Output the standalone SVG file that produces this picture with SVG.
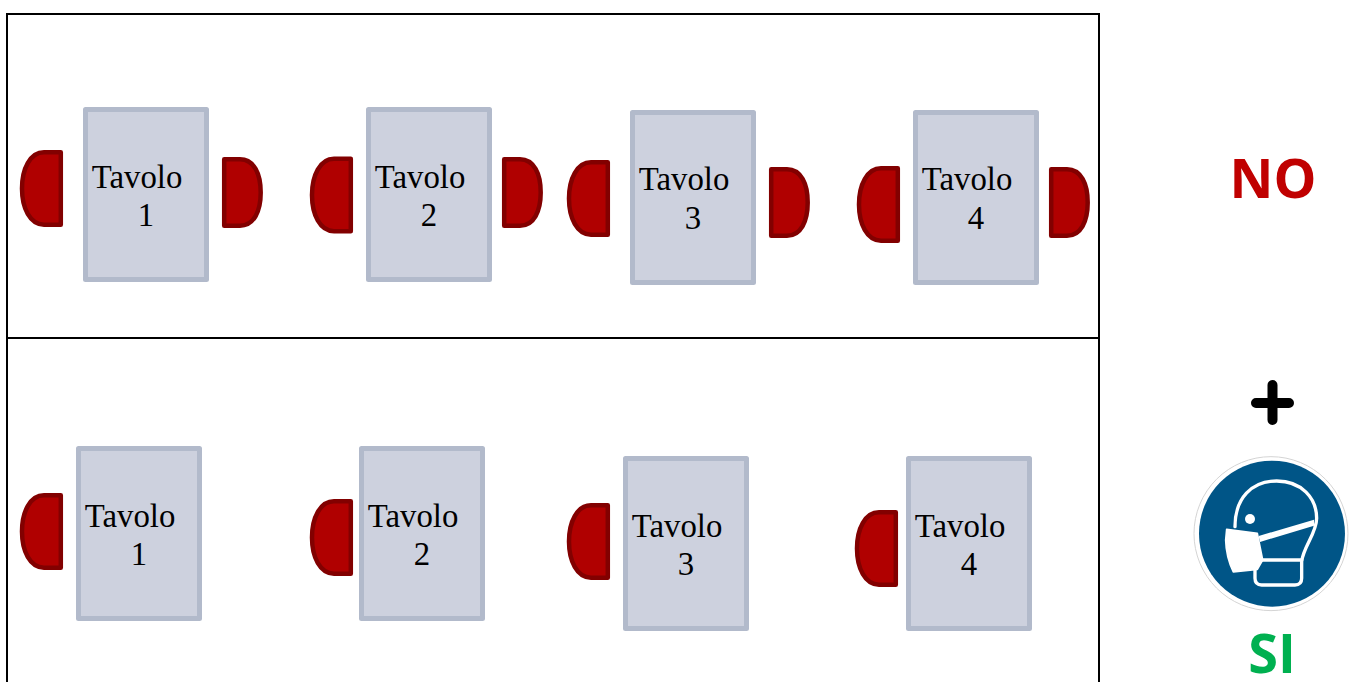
<svg xmlns="http://www.w3.org/2000/svg" width="1351" height="682" viewBox="0 0 1351 682">
<style>
.frame{fill:none;stroke:#000;stroke-width:2}
.table{fill:#cdd1de;stroke:#b2bacb;stroke-width:5;stroke-linejoin:round}
.seat{fill:#b00000;stroke:#820000;stroke-width:4.5;stroke-linejoin:round}
.label{font-family:"Liberation Serif",serif;font-size:32.800px;fill:#000}
.big{font-family:"Open Sans","Liberation Sans",sans-serif;font-weight:700;font-size:54px;text-anchor:middle}
</style>
<defs>
<path id="sl" d="M60.800 152.300V224.700H44C30 224.700 22 208 22 188.500C22 169 30 152.300 44 152.300Z"/>
<path id="sr" d="M224.200 159.300V225.700H240C254 225.700 260.700 211 260.700 192.500C260.700 174 254 159.300 240 159.300Z"/>
<rect id="t" x="85.500" y="109.500" width="121" height="170"/>
</defs>
<g id="frames">
<rect class="frame" x="7" y="14" width="1092" height="324"/>
<path class="frame" d="M7 338V682M1099 338V682"/>
</g>
<g id="connectors"/>
<g id="top-seats">
<use href="#sl" class="seat"/><use href="#sr" class="seat"/>
<use href="#sl" class="seat" x="290" y="6.500"/><use href="#sr" class="seat" x="280"/>
<use href="#sl" class="seat" x="547" y="10"/><use href="#sr" class="seat" x="547" y="10"/>
<use href="#sl" class="seat" x="837" y="16"/><use href="#sr" class="seat" x="827" y="10"/>
</g>
<g id="top-t1"><use href="#t" class="table"/><text class="label" x="91.700" y="187.700">Tavolo</text><text class="label" x="137.700" y="225.700">1</text></g>
<g id="top-t2"><use href="#t" class="table" x="283"/><text class="label" x="374.700" y="187.700">Tavolo</text><text class="label" x="420.700" y="225.700">2</text></g>
<g id="top-t3"><use href="#t" class="table" x="547" y="3"/><text class="label" x="638.700" y="189.700">Tavolo</text><text class="label" x="684.700" y="228.700">3</text></g>
<g id="top-t4"><use href="#t" class="table" x="830" y="3"/><text class="label" x="921.700" y="189.700">Tavolo</text><text class="label" x="967.700" y="228.700">4</text></g>
<g id="bottom-seats">
<use href="#sl" class="seat" y="343"/>
<use href="#sl" class="seat" x="290" y="349"/>
<use href="#sl" class="seat" x="547" y="353"/>
<use href="#sl" class="seat" x="835" y="360"/>
</g>
<g id="bottom-t1"><use href="#t" class="table" x="-7" y="339"/><text class="label" x="84.700" y="526.700">Tavolo</text><text class="label" x="130.700" y="564.700">1</text></g>
<g id="bottom-t2"><use href="#t" class="table" x="276" y="339"/><text class="label" x="367.700" y="526.700">Tavolo</text><text class="label" x="413.700" y="564.700">2</text></g>
<g id="bottom-t3"><use href="#t" class="table" x="540" y="349"/><text class="label" x="631.700" y="536.700">Tavolo</text><text class="label" x="677.700" y="574.700">3</text></g>
<g id="bottom-t4"><use href="#t" class="table" x="823" y="349"/><text class="label" x="914.700" y="536.700">Tavolo</text><text class="label" x="960.700" y="574.700">4</text></g>
<g id="no"><text class="big" x="1273" y="198" fill="#c00000">NO</text></g>
<g id="plus"><path d="M1272.500 385V420M1256 403H1289" fill="none" stroke="#000" stroke-width="10" stroke-linecap="round"/></g>
<g id="mask-sign" transform="translate(1180 370) scale(.3333)">
<circle cx="273" cy="491" r="231" fill="#fff" stroke="#d4d4d4" stroke-width="3"/>
<circle cx="276" cy="491" r="219" fill="#005587"/>
<g fill="none" stroke="#fff" stroke-width="10" stroke-linejoin="round" stroke-linecap="round">
<path d="M165 470C165 385 215 333 290 333C365 333 410 385 410 445C410 490 370 530 365 575V625Q365 645 345 645H245Q225 645 225 625V595"/>
<path d="M240 570H365"/>
</g>
<path d="M236 498L402 449V467L240 516Z" fill="#fff"/>
<circle cx="210" cy="447" r="15" fill="#fff"/>
<path d="M140 478L232 490L248 570L232 598L160 606Q138 560 137 510Z" fill="#fff" stroke="#fff" stroke-width="5" stroke-linejoin="round"/>
</g>
<g id="si"><text class="big" x="1272" y="673" fill="#00b050">SI</text></g>
</svg>
